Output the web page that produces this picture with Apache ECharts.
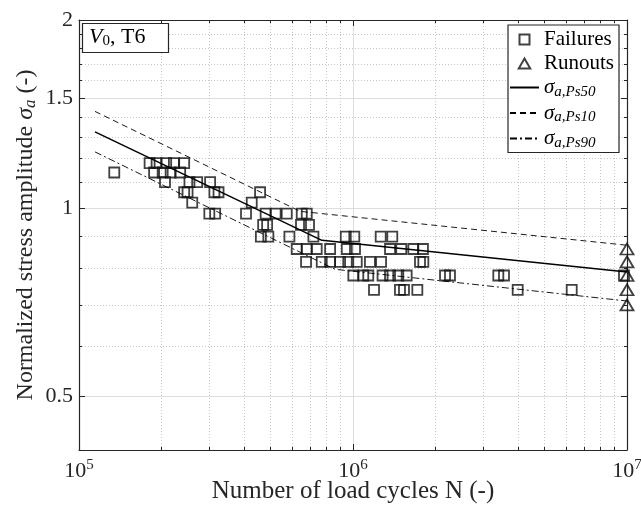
<!DOCTYPE html>
<html><head><meta charset="utf-8">
<script src="https://cdn.jsdelivr.net/npm/echarts@6/dist/echarts.min.js"></script>
<style>html,body{margin:0;padding:0;background:#fff}#c{width:641px;height:509px}</style>
</head><body><div id="c"></div>
<script>
// ---- tick values ----
const xMajorTicks = [1e5, 1e6, 1e7];
const xMinorTicks = [2e5,3e5,4e5,5e5,6e5,7e5,8e5,9e5,2e6,3e6,4e6,5e6,6e6,7e6,8e6,9e6];
const yMajorTicks = [0.5, 1, 1.5, 2];
const yMinorTicks = [0.6,0.7,0.8,0.9,1.1,1.2,1.3,1.4,1.6,1.7,1.8,1.9];

// ---- failures (cycles, normalized stress amplitude) ----
const failN = [
  1.81e5,1.92e5,2.08e5,2.22e5,2.42e5,
  1.345e5,1.88e5,2.02e5,2.16e5,2.34e5,
  2.06e5,2.53e5,2.70e5,3.01e5,
  2.42e5,2.49e5,3.12e5,3.23e5,4.58e5,
  2.59e5,4.27e5,
  2.99e5,3.14e5,4.07e5,4.80e5,5.22e5,5.73e5,6.50e5,6.78e5,
  4.70e5,4.86e5,6.46e5,6.91e5,
  4.61e5,4.91e5,5.86e5,7.17e5,9.41e5,1.011e6,1.262e6,1.391e6,
  6.23e5,6.78e5,7.37e5,8.25e5,9.49e5,1.017e6,1.365e6,1.50e6,1.66e6,1.80e6,
  6.74e5,7.69e5,8.25e5,8.97e5,9.61e5,1.032e6,1.153e6,1.266e6,1.756e6,1.806e6,
  1.003e6,1.090e6,1.137e6,1.282e6,1.365e6,1.463e6,1.570e6,2.167e6,2.259e6,3.391e6,3.557e6,9.75e6,
  1.193e6,1.484e6,1.535e6,1.717e6,3.991e6,6.284e6
];
const failS = [
  1.18,1.18,1.18,1.18,1.18,
  1.14,1.14,1.14,1.14,1.14,
  1.10,1.10,1.10,1.10,
  1.06,1.06,1.06,1.06,1.06,
  1.02,1.02,
  0.98,0.98,0.98,0.98,0.98,0.98,0.98,0.98,
  0.94,0.94,0.94,0.94,
  0.90,0.90,0.90,0.90,0.90,0.90,0.90,0.90,
  0.86,0.86,0.86,0.86,0.86,0.86,0.86,0.86,0.86,0.86,
  0.82,0.82,0.82,0.82,0.82,0.82,0.82,0.82,0.82,0.82,
  0.78,0.78,0.78,0.78,0.78,0.78,0.78,0.78,0.78,0.78,0.78,0.78,
  0.74,0.74,0.74,0.74,0.74,0.74
];
// ---- runouts ----
const runN = [1e7,1e7,1e7,1e7,1e7];
const runS = [0.86,0.82,0.78,0.74,0.70];
// ---- fitted curves ----
const ps50N = [1.144e5, 7.7e5, 1e7];
const ps50S = [1.324, 0.888, 0.790];
const ps10N = [1.144e5, 6.41e5, 1e7];
const ps10S = [1.428, 0.988, 0.872];
const ps90N = [1.144e5, 8.6e5, 1e7];
const ps90S = [1.230, 0.798, 0.710];

const zip = (a, b) => a.map((v, i) => [v, b[i]]);
const FONT = '"Liberation Serif", "DejaVu Serif", serif';
const AX = '#262626';
const MAJ = '#dedede';
const MIN = '#c8c8c8';
const CLEAR = 'rgba(0,0,0,0)';

function logAxis(extra, min, max) {
  return Object.assign({
    type: 'log', logBase: 10, min: min, max: max,
    axisLine: {show: false, onZero: false, lineStyle: {color: AX, width: 1}},
    axisTick: {show: false},
    axisLabel: {show: false},
    splitLine: {show: false},
    minorTick: {show: false}, minorSplitLine: {show: false}
  }, extra);
}
const xMin = 1e5, xMax = 1e7, yMin = 0.41, yMax = 2;

const chart = echarts.init(document.getElementById('c'), null, {renderer: 'canvas'});
chart.setOption({
  backgroundColor: '#fff',
  animation: false,
  title: {
    text: '{v|V}{s|0}{t|, T6}',
    left: 82, top: 22,
    borderColor: AX, borderWidth: 1.2,
    backgroundColor: '#fff',
    padding: [3, 23, 4, 7],
    textStyle: {
      fontWeight: 'normal',
      rich: {
        v: {fontFamily: FONT, fontSize: 22, fontStyle: 'italic', fontWeight: 'normal', color: '#000'},
        s: {fontFamily: FONT, fontSize: 15, fontWeight: 'normal', color: '#000', padding: [9, 0, 0, 0]},
        t: {fontFamily: FONT, fontSize: 22, fontWeight: 'normal', color: '#000'}
      }
    }
  },
  legend: {
    orient: 'vertical',
    left: 508, top: 25,
    padding: [4, 5, 2, 1],
    itemWidth: 29, itemHeight: 10,
    itemGap: 3,
    borderColor: AX, borderWidth: 1.2,
    backgroundColor: '#fff',
    symbolKeepAspect: true,
    data: [
      {name: 'Failures', icon: 'path://M0,0L10,0L10,10L0,10Z'},
      {name: 'Runouts', icon: 'path://M5,0L10,8.7L0,8.7Z'},
      {name: 'Ps50'}, {name: 'Ps10'}, {name: 'Ps90'}
    ],
    formatter: function (name) {
      if (name === 'Failures' || name === 'Runouts') return '{n|' + name + '}';
      return '{g|σ}{sub|a,Ps' + name.slice(2) + '}';
    },
    textStyle: {
      color: '#000',
      rich: {
        n: {fontFamily: FONT, fontSize: 21, color: '#000', lineHeight: 22},
        g: {fontFamily: FONT, fontSize: 21, fontStyle: 'italic', color: '#000', lineHeight: 22},
        sub: {fontFamily: FONT, fontSize: 15, fontStyle: 'italic', color: '#000', padding: [9, 0, 0, 0]}
      }
    }
  },
  grid: {left: 79, right: 14, top: 20, bottom: 59, outerBoundsMode: 'none', containLabel: false},
  xAxis: [
    logAxis({
      position: 'bottom',
      axisLine: {show: true, onZero: false, lineStyle: {color: AX, width: 1.2}},
      axisTick: {show: true, inside: true, length: 6, customValues: xMajorTicks, lineStyle: {color: AX, width: 1}},
      axisLabel: {
        show: true, customValues: xMajorTicks, margin: 8, color: AX,
        formatter: function (v) { return '{b|10}{e|' + Math.round(Math.log10(v)) + '}'; },
        rich: {
          b: {fontFamily: FONT, fontSize: 22, color: AX},
          e: {fontFamily: FONT, fontSize: 15, color: AX, padding: [0, 0, 11, 0]}
        }
      },
      splitLine: {show: true, lineStyle: {color: MAJ, width: 1}},
      name: 'Number of load cycles N (-)',
      nameLocation: 'middle', nameGap: 29, nameMoveOverlap: false,
      nameTextStyle: {fontFamily: FONT, fontSize: 25, color: AX}
    }, xMin, xMax),
    logAxis({
      position: 'bottom',
      axisTick: {show: true, inside: true, length: 3, customValues: xMinorTicks, lineStyle: {color: AX, width: 1}},
      splitLine: {show: true, lineStyle: {color: MIN, width: 1, type: [1, 2]}}
    }, xMin, xMax),
    logAxis({
      position: 'top',
      axisLine: {show: true, onZero: false, lineStyle: {color: AX, width: 1.2}},
      axisTick: {show: true, inside: true, length: 6, customValues: xMajorTicks, lineStyle: {color: AX, width: 1}}
    }, xMin, xMax),
    logAxis({
      position: 'top',
      axisTick: {show: true, inside: true, length: 3, customValues: xMinorTicks, lineStyle: {color: AX, width: 1}}
    }, xMin, xMax)
  ],
  yAxis: [
    logAxis({
      position: 'left',
      axisLine: {show: true, onZero: false, lineStyle: {color: AX, width: 1.2}},
      axisTick: {show: true, inside: true, length: 6, customValues: yMajorTicks, lineStyle: {color: AX, width: 1}},
      axisLabel: {
        show: true, customValues: yMajorTicks, margin: 6, color: AX,
        fontFamily: FONT, fontSize: 22,
        formatter: function (v) { return String(Math.round(v * 10) / 10); }
      },
      splitLine: {show: true, lineStyle: {color: MAJ, width: 1}},
      name: 'Normalized stress amplitude {i|σ}{s|a} (-)',
      nameLocation: 'middle', nameGap: 40, nameRotate: 90, nameMoveOverlap: false,
      nameTextStyle: {
        fontFamily: FONT, fontSize: 24, color: AX,
        rich: {
          i: {fontFamily: FONT, fontSize: 24, fontStyle: 'italic', color: AX},
          s: {fontFamily: FONT, fontSize: 17, fontStyle: 'italic', color: AX, padding: [10, 0, 0, 0]}
        }
      }
    }, yMin, yMax),
    logAxis({
      position: 'left',
      axisTick: {show: true, inside: true, length: 3, customValues: yMinorTicks, lineStyle: {color: AX, width: 1}},
      splitLine: {show: true, lineStyle: {color: MIN, width: 1, type: [1, 2]}}
    }, yMin, yMax),
    logAxis({
      position: 'right',
      axisLine: {show: true, onZero: false, lineStyle: {color: AX, width: 1.2}},
      axisTick: {show: true, inside: true, length: 6, customValues: yMajorTicks, lineStyle: {color: AX, width: 1}}
    }, yMin, yMax),
    logAxis({
      position: 'right',
      axisTick: {show: true, inside: true, length: 3, customValues: yMinorTicks, lineStyle: {color: AX, width: 1}}
    }, yMin, yMax)
  ],
  series: [
    {
      name: 'Failures', type: 'scatter', xAxisIndex: 0, yAxisIndex: 0,
      data: zip(failN, failS), symbol: 'rect', symbolSize: 10,
      itemStyle: {color: CLEAR, borderColor: '#111', borderWidth: 1.8},
      z: 3
    },
    {
      name: 'Runouts', type: 'scatter', xAxisIndex: 0, yAxisIndex: 0,
      data: zip(runN, runS), symbol: 'triangle', symbolSize: [13, 11],
      itemStyle: {color: CLEAR, borderColor: '#111', borderWidth: 1.8},
      z: 3
    },
    {
      name: 'Ps50', type: 'line', xAxisIndex: 0, yAxisIndex: 0,
      data: zip(ps50N, ps50S), symbol: 'none',
      itemStyle: {color: CLEAR, borderColor: CLEAR, borderWidth: 0},
      lineStyle: {color: '#000', width: 1.5, type: 'solid'}, z: 4
    },
    {
      name: 'Ps10', type: 'line', xAxisIndex: 0, yAxisIndex: 0,
      data: zip(ps10N, ps10S), symbol: 'none',
      itemStyle: {color: CLEAR, borderColor: CLEAR, borderWidth: 0},
      lineStyle: {color: '#000', width: 0.9, type: [6, 4]}, z: 4
    },
    {
      name: 'Ps90', type: 'line', xAxisIndex: 0, yAxisIndex: 0,
      data: zip(ps90N, ps90S), symbol: 'none',
      itemStyle: {color: CLEAR, borderColor: CLEAR, borderWidth: 0},
      lineStyle: {color: '#000', width: 0.9, type: [7, 3, 2, 3]}, z: 4
    }
  ]
});
</script>
</body></html>
